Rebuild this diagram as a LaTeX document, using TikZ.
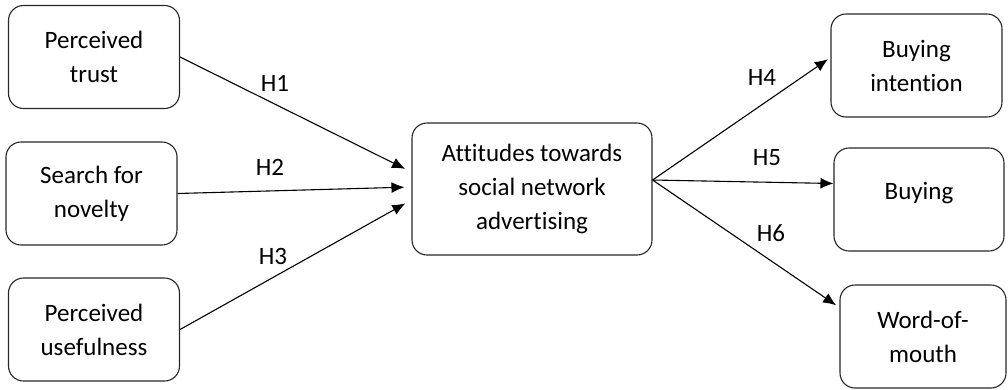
\documentclass[tikz,border=0pt]{standalone}
\usepackage{fontspec}
\setmainfont[Ligatures=NoCommon]{Carlito}
\usetikzlibrary{arrows.meta}
\begin{document}
\begin{tikzpicture}[
                > = {Latex[length=13pt,width=11pt]}, % arrow head style
                x = 1pt, y = -1pt, % one unit per pixel
                line width = 1.1pt % line style
            ]
        \tikzstyle{factor}=[
                draw = black!85,
                rounded corners = 15pt,
                align = center,
                inner sep = 0pt,
                minimum width = 171pt,
                minimum height = 103pt,
                font = \fontsize{25}{34}\selectfont
            ]
        \tikzstyle{hyp} = [font=\fontsize{25}{30}\selectfont]

        \useasboundingbox (0,0) rectangle (1008,389);

        % antecedents
        \node[factor] (trust) at (94,57) {Perceived\\trust};
        \node[factor] (novelty) at (91.5,193.5) {Search for\\novelty};
        \node[factor] (useful) at (94,329.5) {Perceived\\usefulness};

        % mediator
        \node[factor, minimum width=240pt, minimum height=132pt] (attitude) at (532,189)
            {Attitudes towards\\social network\\advertising};

        % outcomes
        \node[factor] (intention) at (916.5,65.5) {Buying\\intention};
        \node[factor, minimum width=170pt, text height=15pt, text depth=15pt] (buying) at (919,199.5) {Buying};
        \node[factor, minimum width=166pt] (wom) at (923,336.5) {Word-of-\\mouth};

        % hypotheses in
        \path[->, shorten > = 7pt] (trust.east) edge ([yshift=17pt]attitude.west);
        \path[->, shorten > = 7pt] (novelty.east) edge ([yshift=2pt]attitude.west);
        \path[->, shorten > = 7pt] (useful.east) edge ([yshift=-11pt]attitude.west);

        % hypotheses out
        \coordinate (fan) at ([yshift=9pt]attitude.east);
        \path[->, shorten > = 3pt] (fan) edge ([yshift=8pt]intention.west);
        \path[->] (fan) edge ([yshift=16pt]buying.west);
        \path[->, shorten > = 4pt] (fan) edge ([yshift=29pt]wom.west);

        % labels
        \node[hyp] (h1) at (275,83) {H1};
        \node[hyp] (h2) at (270,167) {H2};
        \node[hyp] (h3) at (273,256) {H3};
        \node[hyp] (h4) at (762,77) {H4};
        \node[hyp] (h5) at (767,158) {H5};
        \node[hyp] (h6) at (771,233) {H6};
    \end{tikzpicture}
\end{document}
